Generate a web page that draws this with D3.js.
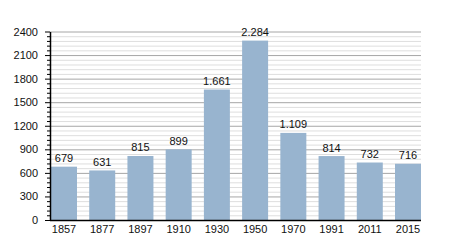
<!DOCTYPE html>
<html>
<head>
<meta charset="utf-8">
<script src="https://cdn.jsdelivr.net/npm/d3@7"></script>
<style>
  body { margin: 0; background: #fff; }
  svg { display: block; font-family: "Liberation Sans", Arial, sans-serif; }
</style>
</head>
<body>
<svg id="chart" width="450" height="250"></svg>
<script>
const years = ["1857", "1877", "1897", "1910", "1930", "1950", "1970", "1991", "2011", "2015"];
const population = [679, 631, 815, 899, 1661, 2284, 1109, 814, 732, 716];
const yMajorTicks = [0, 300, 600, 900, 1200, 1500, 1800, 2100, 2400];

const svg = d3.select("#chart");
const plotLeft = 50, plotRight = 421, plotTop = 31.5, plotBottom = 220;

const x = d3.scaleBand().domain(years).range([51, plotRight]).paddingInner(0.32).paddingOuter(0);
const y = d3.scaleLinear().domain([0, 2400]).range([plotBottom, plotTop]);

// thousands separator is a dot
const fmt = v => d3.format(",")(v).replace(/,/g, ".");

// minor gridlines (every 60)
const minor = d3.range(0, 2401, 60).filter(v => v % 300 !== 0);
svg.append("g")
  .selectAll("line")
  .data(minor)
  .join("line")
  .attr("x1", plotLeft).attr("x2", plotRight)
  .attr("y1", d => y(d) + 0.5).attr("y2", d => y(d) + 0.5)
  .attr("stroke", "#dedede")
  .attr("stroke-width", 1);

// major gridlines
svg.append("g")
  .selectAll("line")
  .data(yMajorTicks.filter(v => v > 0))
  .join("line")
  .attr("x1", plotLeft).attr("x2", plotRight)
  .attr("y1", d => y(d) + 0.5).attr("y2", d => y(d) + 0.5)
  .attr("stroke", "#a6a6a6")
  .attr("stroke-width", 1);

// bars
svg.append("g")
  .selectAll("rect")
  .data(population)
  .join("rect")
  .attr("x", (d, i) => x(years[i]))
  .attr("y", d => y(d))
  .attr("width", x.bandwidth())
  .attr("height", d => plotBottom - y(d))
  .attr("fill", "#98b4cf");

// value labels
svg.append("g")
  .selectAll("text")
  .data(population)
  .join("text")
  .attr("x", (d, i) => x(years[i]) + x.bandwidth() / 2)
  .attr("y", d => y(d) - 4.5)
  .attr("text-anchor", "middle")
  .attr("font-size", 11)
  .attr("fill", "#111")
  .text(d => fmt(d));

// y axis minor ticks
const yMinorAxis = d3.axisLeft(y).tickValues(minor).tickSize(3).tickFormat("");
svg.append("g")
  .attr("transform", `translate(${plotLeft},0)`)
  .call(yMinorAxis)
  .call(g => g.select(".domain").remove())
  .selectAll("line").attr("stroke", "#000");

// y axis major
const yAxis = d3.axisLeft(y).tickValues(yMajorTicks).tickFormat(d3.format("d"))
  .tickSize(5).tickSizeOuter(0).tickPadding(7);
svg.append("g")
  .attr("transform", `translate(${plotLeft},0)`)
  .call(yAxis)
  .call(g => g.select(".domain").attr("stroke", "#000").attr("stroke-width", 1.5))
  .call(g => g.selectAll("text").attr("font-size", 11).attr("fill", "#111").attr("font-family", "Liberation Sans, Arial, sans-serif"))
  .call(g => g.selectAll("line").attr("stroke", "#000"));

// x axis
const xAxis = d3.axisBottom(x).tickSize(0).tickPadding(5);
svg.append("g")
  .attr("transform", `translate(0,${plotBottom})`)
  .call(xAxis)
  .call(g => g.select(".domain").attr("d", `M${plotLeft},0.5H${plotRight}`).attr("stroke", "#000").attr("stroke-width", 1.5))
  .call(g => g.selectAll("text").attr("font-size", 11).attr("fill", "#111").attr("font-family", "Liberation Sans, Arial, sans-serif"));
</script>
</body>
</html>
